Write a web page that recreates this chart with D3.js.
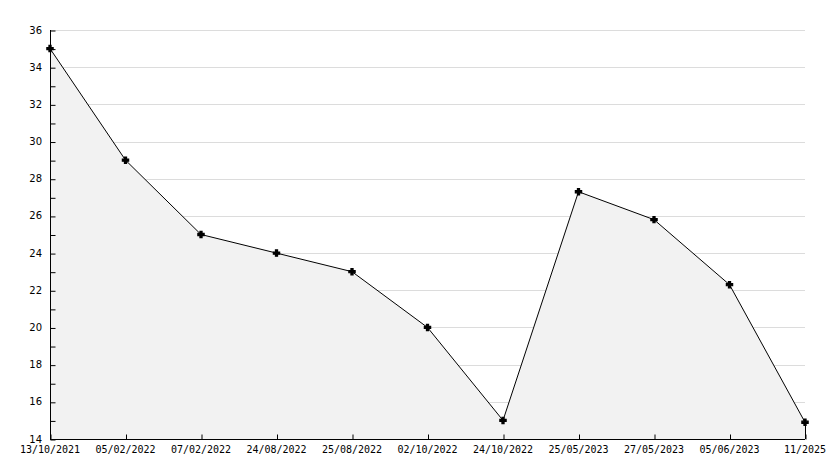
<!DOCTYPE html>
<html>
<head>
<meta charset="utf-8">
<script src="https://cdn.jsdelivr.net/npm/d3@7"></script>
<style>
  body { margin: 0; background: #fff; }
  text { font-family: "DejaVu Sans Mono", monospace; font-size: 10px; fill: #000; }
</style>
</head>
<body>
<svg class="chart" width="834" height="468"></svg>
<script>
var dates = ["13/10/2021", "05/02/2022", "07/02/2022", "24/08/2022", "25/08/2022",
             "02/10/2022", "24/10/2022", "25/05/2023", "27/05/2023", "05/06/2023", "11/2025"];
var values = [35, 29, 25, 24, 23, 20, 15, 27.3, 25.8, 22.3, 14.9];
var yTicks = [14, 16, 18, 20, 22, 24, 26, 28, 30, 32, 34, 36];
var yMinor = [15, 17, 19, 21, 23, 25, 27, 29, 31, 33, 35];

(function() {
  var margin = {top: 30, right: 29, bottom: 29, left: 50};

  var svg = d3.select(".chart"),
      width = +svg.attr("width") - margin.left - margin.right,
      height = +svg.attr("height") - margin.top - margin.bottom;

  var chart = svg.append("g")
    .attr("transform", "translate(" + margin.left + "," + margin.top + ")");

  var x = d3.scalePoint().domain(d3.range(dates.length)).range([0, width]);
  var y = d3.scaleLinear().domain([14, 36]).range([height, 0]);

  // grid
  chart.selectAll(".grid")
    .data(yTicks.slice(1))
    .enter().append("line")
    .attr("x1", 0).attr("x2", width)
    .attr("y1", function(d) { return Math.round(y(d)) + 0.5; })
    .attr("y2", function(d) { return Math.round(y(d)) + 0.5; })
    .attr("stroke", "#dcdcdc");

  var data = values.map(function(v, i) { return {i: i, v: v}; });

  chart.append("path")
    .datum(data)
    .attr("fill", "#f2f2f2")
    .attr("d", d3.area()
      .x(function(d) { return x(d.i); })
      .y0(y(14))
      .y1(function(d) { return y(d.v); }));

  chart.append("path")
    .datum(data)
    .attr("fill", "none")
    .attr("stroke", "#000")
    .attr("d", d3.line()
      .x(function(d) { return x(d.i); })
      .y(function(d) { return y(d.v); }));

  // right edge of area
  var last = data[data.length - 1];
  chart.append("line")
    .attr("x1", x(last.i) + 0.5).attr("x2", x(last.i) + 0.5)
    .attr("y1", y(last.v)).attr("y2", height)
    .attr("stroke", "#000");

  // y axis (ticks point inward)
  var yAxis = chart.append("g")
    .attr("transform", "translate(0.5,0)")
    .call(d3.axisRight(y).tickValues(yTicks).tickSize(5).tickFormat(""));
  yAxis.select(".domain").attr("d", "M0," + y(36) + "V" + (height + 0.5));
  yAxis.selectAll(".tick line").attr("transform", "translate(0,0.5)");

  chart.append("g")
    .attr("transform", "translate(0.5,0)")
    .call(d3.axisRight(y).tickValues(yMinor).tickSize(5).tickFormat(""))
    .call(function(g) { g.select(".domain").remove(); })
    .selectAll(".tick line").attr("transform", "translate(0,0.5)");

  chart.selectAll(".ylabel")
    .data(yTicks)
    .enter().append("text")
    .attr("x", -8)
    .attr("y", function(d) { return y(d); })
    .attr("dy", "0.35em")
    .attr("text-anchor", "end")
    .style("font-family", "'DejaVu Sans', sans-serif")
    .text(function(d) { return d; });

  // x axis (ticks point inward)
  var xAxis = chart.append("g")
    .attr("transform", "translate(0," + (height + 0.5) + ")")
    .call(d3.axisTop(x).tickSize(5).tickFormat(""));
  xAxis.select(".domain").attr("d", "M0,0H" + width);
  xAxis.selectAll(".tick line").attr("transform", "translate(0.5,0)");

  chart.selectAll(".xlabel")
    .data(dates)
    .enter().append("text")
    .attr("x", function(d, i) { return x(i); })
    .attr("y", height + 14)
    .attr("text-anchor", "middle")
    .text(function(d) { return d; });

  // markers
  chart.selectAll(".dot")
    .data(data)
    .enter().append("path")
    .attr("transform", function(d) { return "translate(" + x(d.i) + "," + y(d.v) + ")"; })
    .attr("d", d3.symbol().type(d3.symbolCross).size(22))
    .attr("fill", "#000")
    .attr("stroke", "#000")
    .attr("stroke-width", 1.2);
})();
</script>
</body>
</html>
